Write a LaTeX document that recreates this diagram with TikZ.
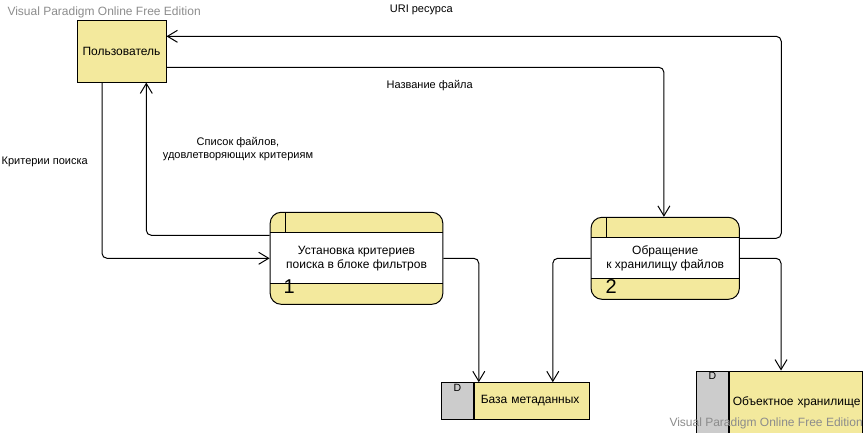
\documentclass[tikz,border=0pt]{standalone}
\usepackage{fontspec}
\setmainfont{Liberation Sans}
\usepackage{tikz}
\usetikzlibrary{arrows.meta}
\usetikzlibrary{calc}
\usetikzlibrary{positioning}

\definecolor{vpyellow}{RGB}{243,233,157}
\definecolor{vpgrey}{RGB}{204,204,204}
\definecolor{vpmark}{RGB}{140,140,140}

\tikzset{
	process/.style = {
			draw, fill=vpyellow, rounded corners=11pt,
			align=center, font=\fontsize{12}{14}\selectfont,
			path picture = {
				\fill[white, sharp corners] ([yshift=-20.5pt]path picture bounding box.north west) rectangle ([yshift=20.5pt]path picture bounding box.south east);
				\draw[sharp corners] ([yshift=-20.5pt]path picture bounding box.north west) -- ([yshift=-20.5pt]path picture bounding box.north east);
				\draw[sharp corners] ([yshift=20.5pt]path picture bounding box.south west) -- ([yshift=20.5pt]path picture bounding box.south east);
				\draw[sharp corners] ([xshift=15.8pt]path picture bounding box.north west) -- ([xshift=15.8pt,yshift=-20.5pt]path picture bounding box.north west);
			}
		}
	}

\begin{document}
\begin{tikzpicture}
		[x=1pt, y=-1pt,
		line width=1pt,
  		> = {Straight Barb[length=10pt,width=12pt]},
  		entity/.style = {draw, fill=vpyellow, minimum width=89pt, minimum height=62pt, font=\fontsize{12}{14}\selectfont},
  		store/.style = {draw, fill=vpyellow, align=left, font=\fontsize{12}{14}\selectfont},
  		storetag/.style = {draw, fill=vpgrey, minimum width=32pt, anchor=north east},
  		tagtext/.style = {anchor=north, inner sep=1.5pt, font=\fontsize{10.5}{12}\selectfont},
  		procnum/.style = {anchor=base west, inner sep=0pt, font=\fontsize{20}{24}\selectfont},
  		flow/.style = {->, rounded corners=5pt},
  		lbl/.style = {anchor=base, inner sep=0pt, font=\fontsize{11}{13}\selectfont},
  		watermark/.style = {anchor=base west, inner sep=0pt, text=vpmark, font=\fontsize{12}{14}\selectfont}
		]
		\useasboundingbox (0,0) rectangle (867,432);
		\clip (0,0) rectangle (867,432);

		\node[entity] (user) at (121.5,51) {Пользователь};

		\node[process, minimum width=172.7pt, minimum height=92pt] (p1) at (356.5,258.3) {Установка критериев\\поиска в блоке фильтров};
		\node[procnum] (p1num) at ([xshift=13.5pt,yshift=11pt]p1.south west) {1};

		\node[process, minimum width=148.3pt, minimum height=82pt] (p2) at (665.2,258.3) {Обращение\\к хранилищу файлов};
		\node[procnum] (p2num) at ([xshift=14.5pt,yshift=6.6pt]p2.south west) {2};

		\node[store, text width=102pt, inner xsep=6.5pt, minimum height=36.6pt] (db1) at (531.8,401) {База метаданных};
		\node[storetag, minimum height=36.6pt] (db1tag) at (db1.north west) {};
		\node[tagtext] (db1d) at (db1tag.north) {D};

		\node[store, text width=126pt, inner xsep=3.5pt, minimum height=62pt] (db2) at (795.8,402) {\mbox{Объектное хранилище}};
		\node[storetag, minimum height=62pt] (db2tag) at (db2.north west) {};
		\node[tagtext] (db2d) at (db2tag.north) {D};

		\draw[flow] ([yshift=20pt]p2.east) -- ++(41.4pt,0) |- ([yshift=14.7pt]user.east);
		\draw[flow] ([yshift=-16.3pt]user.east) -| ([xshift=-1.3pt]p2.north);
		\draw[flow] ([xshift=-19.5pt]user.south) |- (p1.west);
		\draw[flow] ([yshift=23pt]p1.west) -| ([xshift=24.8pt]user.south);
		\draw[flow] (p1.east) -| ([xshift=5pt]db1.north west);
		\draw[flow] (p2.west) -| ([xshift=-37pt]db1.north east);
		\draw[flow] (p2.east) -| ([xshift=-14.8pt]db2.north);

		\node[lbl] (lbluri) at (421.3,12) {URI ресурса};
		\node[lbl] (lblname) at (429.7,88) {Название файла};
		\node[lbl] (lblcrit) at (44.7,164.5) {Критерии поиска};
		\node[lbl, align=center] (lbllist) at (238,158) {Список файлов,\\удовлетворяющих критериям};

		\node[watermark] (wmtop) at (7,15.7) {Visual Paradigm Online Free Edition};
		\node[watermark] (wmbottom) at (669,426.5) {Visual Paradigm Online Free Edition};
	\end{tikzpicture}
\end{document}
